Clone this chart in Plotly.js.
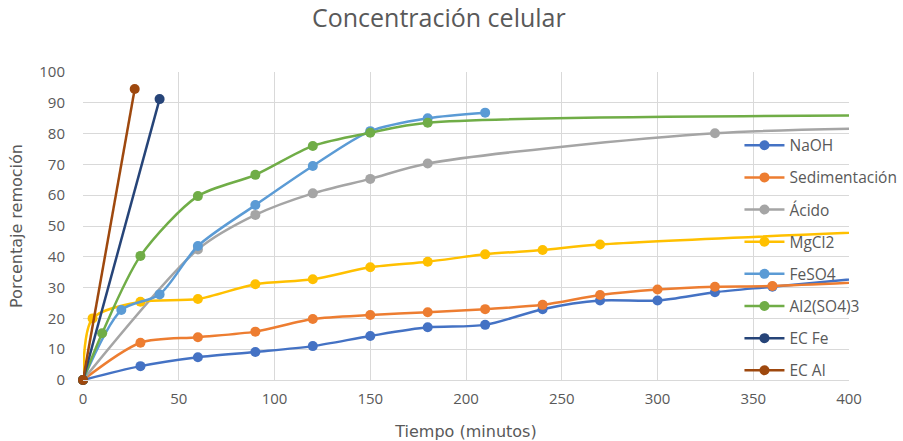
<!DOCTYPE html>
<html>
<head>
<meta charset="utf-8">
<script src="https://cdn.plot.ly/plotly-3.0.1.min.js"></script>
<style>html,body{margin:0;padding:0;background:#fff;}#chart{width:903px;height:441px;}</style>
</head>
<body>
<div id="chart"></div>
<script>
// Data (minutes, % removal). Points beyond 400 only carry the line off the visible range.
const naohX = [0, 30, 60, 90, 120, 150, 180, 210, 240, 270, 300, 330, 360, 480];
const naohY = [0, 4.5, 7.4, 9.1, 11.0, 14.3, 17.1, 17.9, 23.0, 25.8, 25.8, 28.5, 30.3, 37.2];
const sedX = [0, 30, 60, 90, 120, 150, 180, 210, 240, 270, 300, 330, 360, 480];
const sedY = [0, 12.1, 13.9, 15.7, 19.8, 21.1, 22.0, 23.0, 24.4, 27.6, 29.4, 30.3, 30.5, 34.0];
const acidoX = [0, 60, 90, 120, 150, 180, 330, 480];
const acidoY = [0, 42.4, 53.6, 60.6, 65.3, 70.3, 80.1, 82.2];
const mgX = [0, 5, 30, 60, 90, 120, 150, 180, 210, 240, 270, 480];
const mgY = [0, 20.0, 25.4, 26.3, 31.1, 32.7, 36.6, 38.4, 40.8, 42.2, 44.0, 49.8];
const feso4X = [0, 20, 40, 60, 90, 120, 150, 180, 210];
const feso4Y = [0, 22.7, 27.8, 43.5, 56.8, 69.5, 80.8, 85.0, 86.8];
const alX = [0, 10, 30, 60, 90, 120, 150, 180, 480];
const alY = [0, 15.2, 40.3, 59.7, 66.6, 76.0, 80.3, 83.5, 86.0];
const ecFeX = [0, 40];
const ecFeY = [0, 91.2];
const ecAlX = [0, 27];
const ecAlY = [0, 94.5];

const names = ['NaOH', 'Sedimentación', 'Ácido', 'MgCl2', 'FeSO4', 'Al2(SO4)3', 'EC Fe', 'EC Al'];
const colors = ['#4472C4', '#ED7D31', '#A5A5A5', '#FFC000', '#5B9BD5', '#70AD47', '#264478', '#9E480E'];
const xs = [naohX, sedX, acidoX, mgX, feso4X, alX, ecFeX, ecAlX];
const ys = [naohY, sedY, acidoY, mgY, feso4Y, alY, ecFeY, ecAlY];

const traces = names.map((n, i) => ({
  type: 'scatter', mode: 'lines+markers', name: n, x: xs[i], y: ys[i],
  legendgroup: 'g' + i,
  line: {color: colors[i], width: 2.5, shape: 'spline', smoothing: 0.8},
  marker: {color: colors[i], size: 10},
  cliponaxis: false
}));

const font = '"Open Sans", "Noto Sans", sans-serif';
const font2 = '"DejaVu Sans", Verdana, sans-serif';
const layout = {
  width: 903, height: 441,
  margin: {l: 82.5, r: 54, t: 72, b: 61, autoexpand: false},
  paper_bgcolor: '#fff', plot_bgcolor: 'rgba(0,0,0,0)',
  font: {family: font, color: '#595959', size: 15},
  title: {text: 'Concentración celular', x: 0.486, xanchor: 'center', y: 0.958, yanchor: 'middle',
          font: {family: font, size: 25, color: '#595959'}},
  xaxis: {range: [0, 400], dtick: 50, tick0: 0, showgrid: true, gridcolor: '#D9D9D9', gridwidth: 1,
          zeroline: false, showline: true, linecolor: '#D9D9D9', linewidth: 1, ticks: '',
          tickfont: {size: 15, color: '#595959'}, ticklabelstandoff: 5,
          title: {text: 'Tiempo (minutos)', font: {family: font2, size: 16, color: '#595959'}, standoff: 18}},
  yaxis: {range: [0, 100], dtick: 10, tick0: 0, showgrid: true, gridcolor: '#D9D9D9', gridwidth: 1,
          zeroline: false, showline: false, ticks: '',
          tickfont: {size: 15, color: '#595959'}, ticklabelstandoff: 17,
          title: {text: 'Porcentaje remoción', font: {family: font2, size: 16, color: '#595959'}, standoff: 12}},
  legend: {x: 0.857, xanchor: 'left', y: 0.816, yanchor: 'top', bgcolor: 'rgba(0,0,0,0)',
           font: {size: 15.5, color: '#595959'}, tracegroupgap: 9, traceorder: 'grouped',
           itemwidth: 40},
  showlegend: true
};

Plotly.newPlot('chart', traces, layout, {displayModeBar: false, staticPlot: true});
</script>
</body>
</html>
